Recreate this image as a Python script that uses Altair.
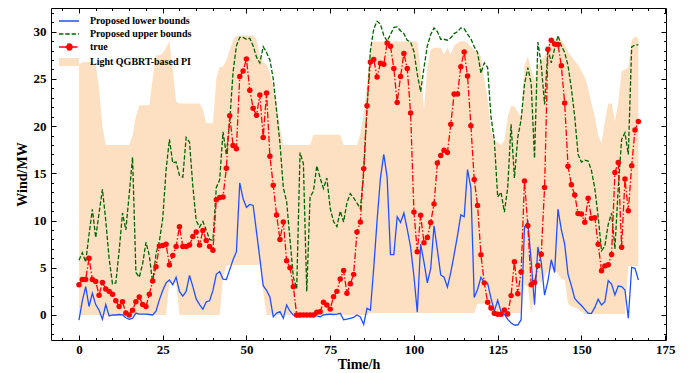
import altair as alt
import pandas as pd

hours = list(range(168))

true_vals = [
    3.2, 3.75, 3.75, 6.0, 3.75, 3.55, 2.1, 3.45, 2.75, 2.5,
    2.2, 1.5, 0.9, 1.4, 0.2, 0.0, 0.5, 1.4, 1.9, 1.1,
    0.9, 2.2, 3.6, 5.1, 7.3, 7.35, 7.5, 5.3, 6.3, 7.25,
    9.35, 7.25, 7.25, 7.4, 8.3, 8.8, 7.4, 8.95, 7.9, 7.25,
    6.85, 12.2, 12.45, 12.5, 15.55, 21.1, 17.95, 17.6, 25.25, 25.85,
    27.1, 23.8, 21.9, 21.15, 23.3, 18.8, 23.5, 16.8, 13.75, 10.6,
    8.0, 9.85, 5.75, 5.0, 3.0, 0.0, 0.0, 0.0, 0.0, 0.0,
    0.0, 0.3, 0.35, 1.35, 1.05, 0.62, 1.94, 2.5, 3.8, 4.7,
    2.3, 3.3, 4.3, 8.8, 9.85, 15.5, 22.15, 26.8, 27.05, 25.2,
    26.65, 26.55, 28.8, 28.45, 26.1, 22.5, 25.25, 27.7, 26.1, 21.4,
    10.9, 6.7, 10.55, 7.66, 8.2, 9.8, 11.75, 16.1, 16.9, 17.45,
    17.2, 20.2, 23.4, 23.4, 26.3, 27.85, 25.3, 20.05, 14.35, 11.6,
    6.38, 3.4, 1.35, 0.75, 0.18, 0.08, 0.08, 0.53, 0.1, 2.05,
    5.65, 2.25, 4.55, 14.2, 9.46, 3.2, 3.43, 5.22, 6.42, 13.5,
    28.15, 29.1, 28.7, 28.65, 26.4, 22.45, 15.75, 13.8, 12.7, 10.75,
    10.7, 9.82, 12.35, 10.25, 10.3, 7.5, 4.68, 5.2, 5.33, 6.4,
    15.1, 16.15, 7.18, 14.4, 11.03, 15.8, 19.6, 20.5,
]

lower_vals = [
    -0.55, 1.5, 3.0, 0.9, 2.3, 1.1, 0.5, -0.45, 1.1, -0.1,
    0.0, 0.0, 0.05, 0.0, -0.3, -0.45, -0.35, 0.2, 0.1, 0.1,
    0.1, 0.05, 0.0, 0.4, 1.6, 2.6, 3.4, 3.7, 3.2, 4.0,
    2.5, 2.0, 2.5, 4.2, 3.0, 1.7, 1.1, 0.6, 1.4, 1.5,
    2.6, 4.3, 4.6, 3.8, 3.75, 4.8, 5.85, 6.7, 14.0, 12.3,
    11.4, 11.7, 11.6, 8.8, 6.0, 3.1, 2.6, 1.9, -0.2, 0.2,
    0.35, -0.35, 1.05, 0.4, 0.0, -0.2, -0.2, -0.1, -0.1, -0.05,
    0.0, -0.1, -0.2, 0.0, 0.05, 0.1, 0.05, 0.1, 0.18, -0.5,
    -0.45, -0.35, -0.25, 0.0, -0.2, -1.0, 0.7, 0.5, 5.0, 10.0,
    14.5, 17.0, 14.6, 6.4, 6.4, 10.4, 9.8, 10.8, 9.1, 7.2,
    4.1, 0.3, 7.5, 5.6, 3.4, 4.9, 9.45, 6.9, 4.24, 4.0,
    2.95, 4.5, 6.4, 8.4, 10.6, 10.4, 15.4, 13.45, 1.85, 2.7,
    4.0, 3.45, 3.35, 1.78, 0.4, 1.55, 0.35, 0.1, -0.46, -0.85,
    -1.06, -1.06, -0.5, 9.3, 9.85, 5.7, 1.1, 7.2, 5.6, 2.1,
    3.6, 5.85, 4.5, 11.2, 9.05, 7.5, 4.3, 3.1, 1.75, 1.35,
    1.0, 0.6, 0.18, 0.18, 0.8, 1.66, 1.06, 1.4, 3.64, 3.28,
    2.12, 3.07, 3.0, 2.65, -0.35, 5.05, 4.94, 3.7,
]

upper_vals = [
    5.8, 6.6, 5.6, 8.5, 11.2, 8.2, 10.8, 13.3, 10.0, 6.0,
    3.3, 3.4, 6.8, 10.8, 9.0, 12.8, 16.7, 4.5, 4.0, 5.4,
    7.7, 6.3, 3.4, 6.5, 7.8, 10.2, 15.3, 18.6, 16.1, 16.2,
    14.8, 14.6, 18.8, 18.3, 13.6, 10.0, 9.3, 9.9, 9.0, 8.0,
    7.9, 13.5, 14.3, 19.4, 17.0, 20.5, 25.7, 28.5, 29.4, 29.4,
    29.2, 29.3, 28.5, 27.3, 26.7, 28.4, 27.8, 27.0, 25.0, 21.6,
    18.2, 13.5, 12.0, 8.0, 4.0, 2.8, 17.2, 16.0, 2.5, 12.5,
    13.1, 15.8, 14.5, 13.4, 14.5, 11.3, 9.9, 9.35, 11.0, 9.85,
    11.9, 12.85, 12.4, 11.85, 11.25, 15.0, 21.9, 28.0, 30.3, 31.1,
    30.8, 29.6, 29.0, 29.7, 30.45, 30.5, 30.1, 29.8, 29.1, 28.9,
    27.9, 25.5, 23.65, 26.2, 28.5, 29.7, 30.4, 30.0, 29.2, 29.2,
    29.1, 29.35, 29.8, 30.0, 30.4, 30.3, 29.75, 29.25, 28.4, 27.8,
    25.6, 26.7, 26.2, 21.0, 18.5, 12.5, 13.0, 10.9, 13.5, 20.2,
    14.5, 18.8, 20.7, 24.4, 26.2, 24.5, 16.6, 28.9, 26.5, 22.3,
    28.2, 26.7, 28.2, 29.6, 28.5, 27.8, 26.4, 24.0, 21.0, 17.0,
    16.2, 16.4, 16.3, 15.3, 13.4, 10.4, 6.8, 7.3, 9.6, 10.8,
    7.0, 13.5, 18.6, 19.3, 17.0, 28.4, 28.6, 28.6,
]

pi_upper = [
    26.5, 26.8, 26.8, 26.8, 26.8, 26.5, 24.0, 20.0, 18.0, 18.0,
    18.0, 18.0, 18.0, 18.0, 18.0, 18.0, 19.0, 21.0, 22.2, 22.2,
    22.2, 22.2, 25.0, 27.5, 27.5, 27.7, 28.3, 29.0, 26.0, 22.6,
    22.4, 22.4, 22.4, 22.4, 22.4, 22.4, 22.4, 21.8, 20.3, 20.3,
    20.3, 25.0, 26.3, 26.3, 27.0, 28.0, 29.1, 29.6, 29.6, 29.6,
    29.6, 29.6, 29.6, 29.2, 27.5, 26.8, 26.5, 25.6, 24.2, 22.4,
    19.9, 18.0, 18.0, 18.0, 18.0, 18.0, 18.0, 18.0, 18.0, 18.0,
    19.1, 19.1, 19.1, 19.1, 19.1, 19.1, 19.1, 19.1, 19.1, 18.0,
    18.0, 18.0, 18.0, 18.0, 19.2, 21.3, 24.5, 28.4, 28.95, 28.95,
    28.95, 28.95, 28.95, 28.95, 28.95, 28.95, 28.95, 28.95, 28.95, 28.95,
    28.95, 28.95, 26.0, 21.7, 26.3, 28.1, 28.3, 28.3, 28.3, 27.6,
    28.3, 27.6, 28.5, 28.8, 29.0, 29.0, 28.8, 28.4, 28.1, 27.8,
    27.4, 24.9, 23.0, 19.5, 18.5, 18.3, 18.0, 18.5, 21.0, 22.1,
    22.1, 21.5, 21.0, 26.5, 27.4, 26.0, 24.8, 26.5, 27.0, 27.4,
    28.5, 29.2, 29.2, 29.2, 29.2, 28.6, 27.9, 27.4, 26.9, 26.5,
    25.8, 25.2, 24.0, 22.4, 21.0, 19.0, 18.2, 20.5, 22.4, 22.4,
    20.5, 22.5, 25.8, 26.0, 26.2, 29.1, 29.5, 29.3,
]

pi_lower = [
    0.0, 0.0, 0.0, 0.0, 0.0, 0.0, 0.0, 0.0, 0.0, 0.0,
    0.0, 0.0, 0.0, 0.0, 0.0, 0.0, 0.0, 0.0, 0.0, 0.0,
    0.0, 0.0, 0.0, 0.0, 0.0, 0.0, 0.0, 3.4, 3.4, 3.4,
    0.0, 0.0, 0.0, 0.0, 0.0, 0.0, 0.0, 0.0, 0.0, 0.0,
    0.0, 0.0, 0.0, 4.0, 5.2, 5.3, 5.3, 5.3, 5.3, 5.3,
    5.3, 5.3, 5.3, 5.3, 5.3, 2.5, 0.0, 0.0, 0.0, 0.0,
    0.0, 0.0, 0.0, 0.0, 0.0, 0.0, 0.0, 0.0, 0.0, 0.0,
    0.0, 0.0, 0.0, 0.0, 0.0, 0.0, 0.0, 0.0, 0.0, 0.0,
    0.0, 0.0, 0.0, 0.0, 0.0, 0.0, 0.0, 0.2, 0.2, 0.2,
    0.2, 0.2, 0.2, 0.2, 0.2, 0.2, 0.2, 0.2, 0.2, 0.2,
    0.2, 0.2, 0.2, 0.2, 0.2, 0.2, 0.2, 0.2, 0.2, 0.2,
    0.2, 0.2, 0.2, 0.2, 0.2, 0.2, 0.2, 0.2, 0.2, 1.2,
    1.2, 1.2, 1.2, 0.2, 0.2, 0.2, 0.2, 0.2, 0.2, 0.2,
    0.2, 0.2, 0.2, 3.2, 3.0, 0.2, 2.8, 3.6, 3.4, 4.0,
    4.7, 4.9, 4.8, 4.4, 3.8, 3.7, 1.2, 0.9, 0.8, 0.6,
    0.35, 0.1, 0.1, 0.1, 0.1, 0.1, 0.1, 0.1, 0.1, 0.1,
    0.1, 0.1, 0.1, 0.1, 5.2, 5.2, 5.2, 5.2,
]

names = ["Proposed lower bounds", "Proposed upper bounds", "true", "Light QGBRT-based PI"]
BLUE, GREEN, RED, PEACH = "#1f52ff", "#006400", "#ff0000", "#fde0c2"

x_major = [0, 25, 50, 75, 100, 125, 150, 175]
x_minor = [v for v in range(-5, 176, 5) if v % 25 != 0]
y_major = [0, 5, 10, 15, 20, 25, 30]
y_minor = [v for v in range(-2, 33) if v % 5 != 0]

W, H = 615, 332
XDOM = [-8.35, 175.25]
YDOM = [-2.65, 32.51]
FONT = "Liberation Serif"

df = pd.DataFrame({
    "t": hours,
    "true": true_vals,
    "lower": lower_vals,
    "upper": upper_vals,
    "pil": pi_lower,
    "piu": pi_upper,
})
legend_df = pd.DataFrame({"s": names})

xs = alt.Scale(domain=XDOM, nice=False, zero=False)
ys = alt.Scale(domain=YDOM, nice=False, zero=False)

line_path = "M-2,0L2,0"
true_path = "M-2,0L2,0M0.6,0A0.6,0.6,0,1,1,-0.6,0A0.6,0.6,0,1,1,0.6,0Z"
rect_path = "M-2,-0.8L2,-0.8L2,0.8L-2,0.8Z"

leg = alt.Legend(
    title=None,
    orient="none",
    legendX=12,
    legendY=7,
    padding=0,
    labelFont=FONT,
    labelFontWeight="bold",
    labelFontSize=10,
    labelColor="black",
    labelOffset=15,
    symbolSize=100,
    symbolStrokeWidth=1.4,
    symbolOpacity=1,
    rowPadding=2,
)

legend_layer = alt.Chart(legend_df).transform_filter("false").mark_point(filled=False).encode(
    shape=alt.Shape("s:N", scale=alt.Scale(domain=names, range=[line_path, line_path, true_path, rect_path]), legend=leg),
    stroke=alt.Stroke("s:N", scale=alt.Scale(domain=names, range=[BLUE, GREEN, RED, "transparent"]), legend=leg),
    fill=alt.Fill("s:N", scale=alt.Scale(domain=names, range=["transparent", "transparent", RED, PEACH]), legend=leg),
    strokeDash=alt.StrokeDash("s:N", scale=alt.Scale(domain=names, range=[[1, 0], [4.4, 1.9], [6.5, 2, 1.5, 2], [1, 0]]), legend=leg),
)

label_style = dict(labelFont=FONT, labelFontWeight="bold", labelFontSize=13, labelColor="black",
                   titleFont=FONT, titleFontWeight="bold", titleFontSize=14, titleColor="black")

band = alt.Chart(df).mark_area(color=PEACH, opacity=1).encode(
    x=alt.X("t:Q", scale=xs, axis=alt.Axis(
        orient="bottom", values=x_major, ticks=False, domain=False, grid=False,
        labelPadding=3, labelFlush=False, title="Time/h", titlePadding=1, **label_style)),
    y=alt.Y("pil:Q", scale=ys, axis=alt.Axis(
        orient="left", values=y_major, ticks=False, domain=False, grid=False,
        labelPadding=5, labelFlush=False, title="Wind/MW", titlePadding=4, **label_style)),
    y2="piu:Q",
)


def series_line(col, **mk):
    return alt.Chart(df).mark_line(**mk).encode(
        x=alt.X("t:Q", scale=xs, axis=None),
        y=alt.Y(f"{col}:Q", scale=ys, axis=None),
    )


blue = series_line("lower", color=BLUE, strokeWidth=1.3)
green = series_line("upper", color=GREEN, strokeWidth=1.3, strokeDash=[4.4, 1.9])
red = series_line("true", color=RED, strokeWidth=1.3, strokeDash=[6.5, 2, 1.5, 2],
                  point=alt.OverlayMarkDef(filled=True, size=30, color=RED, opacity=1))

tick_common = dict(labels=False, domain=False, grid=False, title=None,
                   tickColor="black", tickWidth=1)


def tick_layer(xax, yax):
    return alt.Chart(df).mark_point(opacity=0).encode(
        x=alt.X("t:Q", scale=xs, axis=xax),
        y=alt.Y("true:Q", scale=ys, axis=yax),
    )


t1 = tick_layer(
    alt.Axis(orient="top", offset=-H, values=x_major, tickSize=5, **tick_common),
    alt.Axis(orient="right", offset=-W, values=y_major, tickSize=5, **tick_common),
)
t2 = tick_layer(
    alt.Axis(orient="top", offset=-H, values=x_minor, tickSize=2.5, **tick_common),
    alt.Axis(orient="right", offset=-W, values=y_minor, tickSize=2.5, **tick_common),
)
t3 = tick_layer(
    alt.Axis(orient="bottom", offset=-H, values=x_major, tickSize=5, **tick_common),
    alt.Axis(orient="left", offset=-W, values=y_major, tickSize=5, **tick_common),
)
t4 = tick_layer(
    alt.Axis(orient="bottom", offset=-H, values=x_minor, tickSize=2.5, **tick_common),
    alt.Axis(orient="left", offset=-W, values=y_minor, tickSize=2.5, **tick_common),
)

chart = (
    alt.layer(band, blue, green, red, t1, t2, t3, t4, legend_layer)
    .resolve_axis(x="independent", y="independent")
    .properties(
        width=W, height=H,
        background="white",
        autosize=alt.AutoSizeParams(type="none"),
        padding={"left": 43, "top": 0, "right": 25, "bottom": 33},
    )
    .configure_view(stroke="black", strokeWidth=1)
)

chart.save("out.html", embed_options={"renderer": "svg", "actions": False})
